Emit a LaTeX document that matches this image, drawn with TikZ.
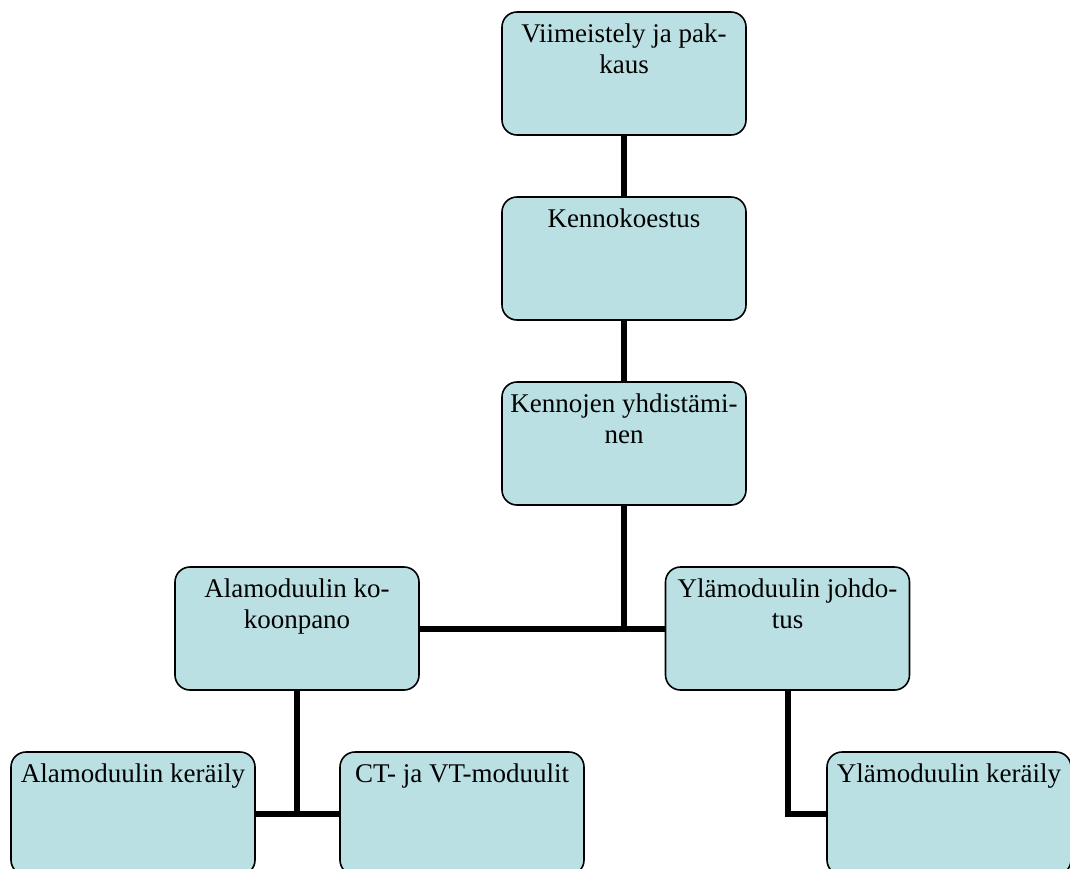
\documentclass[tikz,border=0pt]{standalone}
\usepackage{fontspec}
\setmainfont{Liberation Serif}
\definecolor{boxfill}{RGB}{187,224,227}
\newcommand{\firstln}{\rule{0pt}{30pt}}
\newcommand{\boxtxt}[1]{\parbox[t][123pt][t]{244pt}{\centering\fontsize{27}{31}\selectfont\firstln #1\par}}
\tikzset{
  blk/.style={draw=black, line width=1.6pt, fill=boxfill, rounded corners=15pt,
    inner sep=0pt, outer sep=0pt, anchor=north},
  link/.style={line width=6pt, draw=black}
}
\begin{document}
\begin{tikzpicture}[x=1pt,y=-1pt]
\useasboundingbox (0,0) rectangle (1070,868);
\begin{scope}
\clip (0,0) rectangle (1070,868);
\node[blk] (b1) at (624,12) {\boxtxt{Viimeistely ja pak-\\kaus}};
\node[blk] (b2) at (624,197) {\boxtxt{Kennokoestus}};
\node[blk] (b3) at (624,382) {\boxtxt{Kennojen yhdistämi-\\nen}};
\node[blk] (b4) at (297,567) {\boxtxt{Alamoduulin ko-\\koonpano}};
\node[blk] (b5) at (787.5,567) {\boxtxt{Ylämoduulin johdo-\\tus}};
\node[blk] (b6) at (133,752) {\boxtxt{Alamoduulin keräily}};
\node[blk] (b7) at (462,752) {\boxtxt{CT- ja VT-moduulit}};
\node[blk] (b8) at (949,752) {\boxtxt{Ylämoduulin keräily}};
\coordinate (j1) at (b3.south |- b4.east);
\coordinate (j2) at (b4.south |- b6.east);
\draw[link] (b1.south) -- (b2.north);
\draw[link] (b2.south) -- (b3.north);
\draw[link] (b3.south) -- (j1);
\draw[link] (b4.east) -- (b5.west);
\draw[link] (b4.south) -- (j2);
\draw[link] (b6.east) -- (b7.west);
\draw[link] (b5.south) |- (b8.west);
\end{scope}
\end{tikzpicture}
\end{document}
